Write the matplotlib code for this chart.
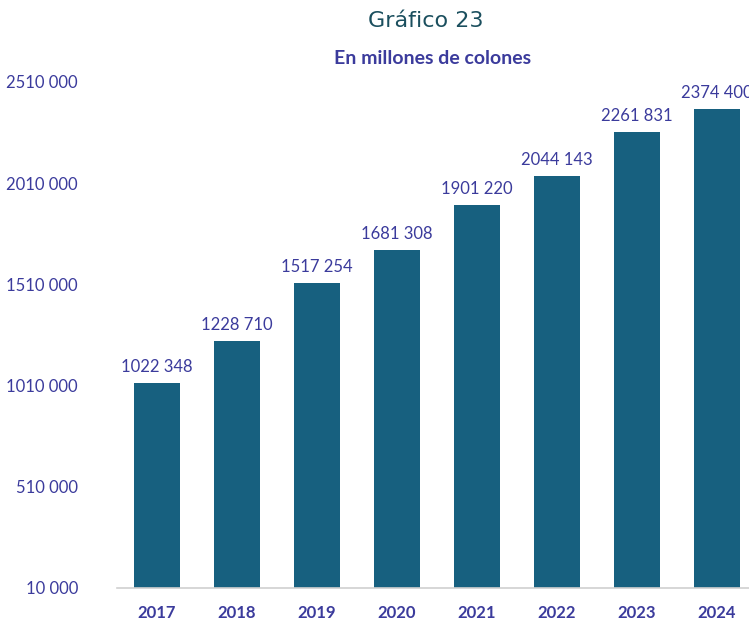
import numpy as np
import matplotlib.pyplot as plt

years = ['2017', '2018', '2019', '2020', '2021', '2022', '2023', '2024']
values = [1022348, 1228710, 1517254, 1681308, 1901220, 2044143, 2261831, 2374400]
yticks = [10000, 510000, 1010000, 1510000, 2010000, 2510000]

bar_color = '#17607f'
txt_color = '#3b3b9c'

plt.rcParams['font.family'] = ['Lato', 'DejaVu Sans']

fig = plt.figure(figsize=(7.49, 6.22), dpi=100)
ax = fig.add_axes([0.156, 0.0547, 0.8545, 0.8135])

x = np.arange(len(years))
bars = ax.bar(x, values, width=0.575, color=bar_color, zorder=2)

def fmt(v):
    # only the last group of thousands is split off: "1022 348"
    return f'{v // 1000} {v % 1000:03d}'

for xi, v in zip(x, values):
    ax.text(xi, v + 40000, fmt(v), ha='center', va='bottom', fontsize=12,
            color=txt_color, clip_on=False)

ax.set_xlim(-0.5, 7.5)
ax.set_ylim(10000, 2510000)
ax.set_yticks(yticks)
ax.set_yticklabels([fmt(v) for v in yticks])
ax.set_xticks(x)
ax.set_xticklabels(years, fontweight='bold')
ax.tick_params(axis='y', length=0, pad=28, labelsize=12, labelcolor=txt_color)
ax.tick_params(axis='x', length=0, pad=12, labelsize=12, labelcolor=txt_color)

for s in ['top', 'right', 'left']:
    ax.spines[s].set_visible(False)
ax.spines['bottom'].set_color('#d0d0d0')
ax.spines['bottom'].set_linewidth(1.2)

fig.text(0.568, 0.967, 'Gráfico 23', ha='center', va='center', fontsize=16,
         color='#1b4f5e', family=['DejaVu Sans'])
fig.text(0.578, 0.906, 'En millones de colones', ha='center', va='center',
         fontsize=14, fontweight='bold', color=txt_color)

fig.savefig('out.png', dpi=100)
